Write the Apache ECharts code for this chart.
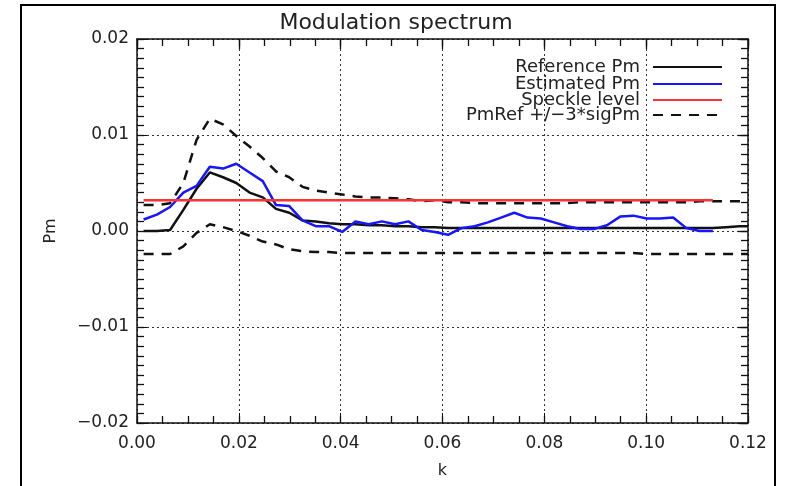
<!DOCTYPE html>
<html>
<head>
<meta charset="utf-8">
<script src="https://cdn.jsdelivr.net/npm/echarts@6/dist/echarts.min.js"></script>
<style>
html,body{margin:0;padding:0;background:#fff;}
#chart{width:792px;height:486px;}
</style>
</head>
<body>
<div id="chart"></div>
<script>
// ---- data ----
const kValues = [0.0013,0.0039,0.0065,0.0091,0.0117,0.0143,0.0169,0.0195,0.0221,0.0247,
  0.0273,0.0299,0.0325,0.0351,0.0377,0.0403,0.0429,0.0455,0.0481,0.0507,
  0.0533,0.0559,0.0585,0.0611,0.0637,0.0663,0.0689,0.0715,0.0741,0.0767,
  0.0793,0.0819,0.0845,0.0871,0.0897,0.0923,0.0949,0.0975,0.1001,0.1027,
  0.1053,0.1079,0.1105,0.1131,0.1157,0.1183,0.1200];
const referencePm = [0,0,0.0001,0.0022,0.0044,0.0061,0.0056,0.0050,0.0040,0.0035,
  0.0023,0.0019,0.0011,0.0010,0.0008,0.0007,0.0007,0.0006,0.0006,0.0005,
  0.0005,0.0004,0.0004,0.0003,0.0003,0.0003,0.0003,0.0003,0.0003,0.0003,
  0.0003,0.0003,0.0003,0.0003,0.0003,0.0003,0.0003,0.0003,0.0003,0.0003,
  0.0003,0.0003,0.0003,0.0003,0.0004,0.0005,0.0005];
const estimatedPm = [0.0012,0.0017,0.0025,0.0040,0.0047,0.0067,0.0065,0.0070,0.0061,0.0052,
  0.0027,0.0026,0.0011,0.0005,0.0005,-0.0001,0.0010,0.0007,0.0010,0.0007,
  0.0010,0.0001,-0.0001,-0.0004,0.0003,0.0005,0.0009,0.0014,0.0019,0.0014,
  0.0013,0.0009,0.0005,0.0002,0.0002,0.0006,0.0015,0.0016,0.0013,0.0013,
  0.0014,0.0003,0.0000,0.0000];
const speckleLevel = [0.0032,0.0032,0.0032,0.0032,0.0032,0.0032,0.0032,0.0032,0.0032,0.0032,
  0.0032,0.0032,0.0032,0.0032,0.0032,0.0032,0.0032,0.0032,0.0032,0.0032,
  0.0032,0.0032,0.0032,0.0032,0.0032,0.0032,0.0032,0.0032,0.0032,0.0032,
  0.0032,0.0032,0.0032,0.0032,0.0032,0.0032,0.0032,0.0032,0.0032,0.0032,
  0.0032,0.0032,0.0032,0.0032];
const upperBound = [0.0027,0.0027,0.0029,0.0050,0.0095,0.0117,0.0111,0.0099,0.0088,0.0076,
  0.0062,0.0056,0.0046,0.0042,0.0040,0.0038,0.0036,0.0035,0.0035,0.0034,
  0.0033,0.0031,0.0032,0.0030,0.0030,0.0029,0.0029,0.0029,0.0029,0.0029,
  0.0029,0.0029,0.0029,0.0030,0.0030,0.0030,0.0030,0.0030,0.0030,0.0030,
  0.0030,0.0030,0.0031,0.0031,0.0031,0.0031,0.0031];
const lowerBound = [-0.0024,-0.0024,-0.0024,-0.0016,-0.0002,0.0007,0.0004,0.0000,-0.0005,-0.0011,
  -0.0014,-0.0019,-0.0021,-0.0022,-0.0022,-0.0023,-0.0023,-0.0023,-0.0023,-0.0023,
  -0.0023,-0.0023,-0.0023,-0.0023,-0.0023,-0.0023,-0.0023,-0.0023,-0.0023,-0.0023,
  -0.0023,-0.0023,-0.0023,-0.0023,-0.0023,-0.0023,-0.0023,-0.0023,-0.0024,-0.0024,
  -0.0024,-0.0024,-0.0024,-0.0024,-0.0024,-0.0024,-0.0024];
const xTickLabels = ['0.00','0.02','0.04','0.06','0.08','0.10','0.12'];
const yTickLabels = ['\u22120.02','\u22120.01','0.00','0.01','0.02'];
const seriesNames = ['Reference Pm','Estimated Pm','Speckle level','PmRef +/\u22123*sigPm'];
const titleText = 'Modulation spectrum';

// ---- chart ----
const FONT = 'DejaVu Sans';
const TXT = '#222';
const AX = '#111';
function pairs(xs, ys){ return ys.map((v,i)=>[xs[i], v]); }

const chart = echarts.init(document.getElementById('chart'), null, {renderer:'canvas'});
const gridLine = {show:true, lineStyle:{color:'#333', type:[2,3], width:1}};
const axisLine = {show:true, onZero:false, lineStyle:{color:AX, width:1.5}};
const noLine = {show:false, onZero:false};

function legendFor(name, top){
  return {
    data:[name], right:69, top:top, orient:'vertical', align:'right',
    itemWidth:69, itemHeight:14, padding:0, selectedMode:false,
    itemStyle:{opacity:0},
    textStyle:{fontFamily:FONT, fontSize:18, color:TXT, padding:[0,8,0,0]}
  };
}
function tickAxisX(pos, step, len, line){
  return {type:'value', min:0, max:0.12, interval:step, position:pos,
    axisLine: line ? axisLine : noLine,
    axisTick:{show:true, inside:true, length:len, lineStyle:{color:AX, width:1.3}},
    minorTick:{show:false}, splitLine:{show:false}, axisLabel:{show:false}};
}
function tickAxisY(pos, step, len, line){
  return {type:'value', min:-0.02, max:0.02, interval:step, position:pos,
    axisLine: line ? axisLine : noLine,
    axisTick:{show:true, inside:true, length:len, lineStyle:{color:AX, width:1.3}},
    minorTick:{show:false}, splitLine:{show:false}, axisLabel:{show:false}};
}

chart.setOption({
  animation:false,
  backgroundColor:'#fff',
  title:{text:titleText, left:'center', top:7,
    textStyle:{fontFamily:FONT, fontSize:22, fontWeight:'normal', color:TXT}},
  graphic:[{type:'rect', shape:{x:21, y:5, width:754, height:500},
    style:{fill:'none', stroke:'#000', lineWidth:2}, silent:true}],
  legend:[
    legendFor(seriesNames[0], 58),
    legendFor(seriesNames[1], 75),
    legendFor(seriesNames[2], 91),
    legendFor(seriesNames[3], 106)
  ],
  grid:{left:137, right:44, top:39, bottom:63},
  xAxis:[{
    type:'value', min:0, max:0.12, interval:0.02, position:'bottom',
    name:'k', nameLocation:'middle', nameGap:40,
    nameTextStyle:{fontFamily:FONT, fontSize:16, color:TXT},
    axisLine:axisLine,
    axisTick:{show:true, inside:true, length:10, lineStyle:{color:AX}},
    minorTick:{show:false},
    splitLine:gridLine,
    axisLabel:{fontFamily:FONT, fontSize:17, color:TXT, margin:12,
      formatter:(v)=>xTickLabels[Math.round(v/0.02)]}
  },
    tickAxisX('top', 0.02, 10, true),
    tickAxisX('bottom', 0.005, 7, false),
    tickAxisX('top', 0.005, 7, false)
  ],
  yAxis:[{
    type:'value', min:-0.02, max:0.02, interval:0.01, position:'left',
    name:'Pm', nameLocation:'middle', nameGap:78, nameRotate:90,
    nameTextStyle:{fontFamily:FONT, fontSize:16, color:TXT},
    axisLine:axisLine,
    axisTick:{show:true, inside:true, length:10, lineStyle:{color:AX}},
    minorTick:{show:false},
    splitLine:gridLine,
    axisLabel:{fontFamily:FONT, fontSize:17, color:TXT, margin:8,
      formatter:(v)=>yTickLabels[Math.round((v+0.02)/0.01)]}
  },
    tickAxisY('right', 0.01, 10, true),
    tickAxisY('left', 0.001, 7, false),
    tickAxisY('right', 0.001, 7, false)
  ],
  series:[
    {name:seriesNames[3], type:'line', data:pairs(kValues, upperBound), symbol:'none',
      lineStyle:{color:'#111', width:2.5, type:[10,8]}, itemStyle:{color:'rgba(0,0,0,0)'}},
    {name:seriesNames[3], type:'line', data:pairs(kValues, lowerBound), symbol:'none',
      lineStyle:{color:'#111', width:2.5, type:[10,8]}, itemStyle:{color:'rgba(0,0,0,0)'}},
    {name:seriesNames[0], type:'line', data:pairs(kValues, referencePm), symbol:'none',
      lineStyle:{color:'#111', width:2.5}, itemStyle:{color:'rgba(0,0,0,0)'}},
    {name:seriesNames[1], type:'line', data:pairs(kValues, estimatedPm), symbol:'none',
      lineStyle:{color:'#1515ff', width:2.5}, itemStyle:{color:'rgba(0,0,0,0)'}},
    {name:seriesNames[2], type:'line', data:pairs(kValues, speckleLevel), symbol:'none',
      lineStyle:{color:'#ff3030', width:2.5}, itemStyle:{color:'rgba(0,0,0,0)'}}
  ]
});
</script>
</body>
</html>
